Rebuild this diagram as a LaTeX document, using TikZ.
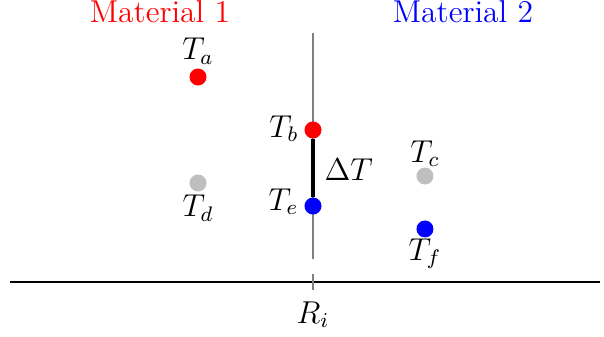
\documentclass[tikz,border=0pt]{standalone}
\usepackage{amsmath, amssymb}
\usepackage{tikz}
\usetikzlibrary{positioning, calc}

\begin{document}
\begin{tikzpicture}[
		font=\large,
		dot/.style={circle, inner sep=0pt, minimum size=0.227cm},
		tlabel/.style={inner sep=0pt, anchor=base},
		axis_line/.style={thin, black},
		iface_line/.style={line width=0.8pt, gray}
		]
		\useasboundingbox (-4.173, -0.72) rectangle (3.88, 3.76);
		
		% Axis and interface
		\coordinate (ax_l) at (-4.04, 0);
		\coordinate (ax_r) at (3.83, 0);
		\coordinate (tick_t) at (0, 0.107);
		\coordinate (tick_b) at (0, -0.107);
		\coordinate (if_t) at (0, 3.32);
		\coordinate (if_b) at (0, 0.307);
		\draw[axis_line] (ax_l) -- (ax_r);
		\draw[iface_line] (tick_t) -- (tick_b);
		\draw[iface_line] (if_t) -- (if_b);
		\node[tlabel] (Ri) at (0, -0.547) {$R_i$};
		
		% Materials
		\node[tlabel, text=red] (mat1) at (-2.04, 3.46) {Material 1};
		\node[tlabel, text=blue] (mat2) at (2.0, 3.46) {Material 2};
		
		% Temperatures
		\node[dot, fill=red] (Ta) at (-1.533, 2.733) {};
		\node[dot, fill=lightgray] (Td) at (-1.533, 1.32) {};
		\node[dot, fill=red] (Tb) at (0, 2.027) {};
		\node[dot, fill=blue] (Te) at (0, 1.013) {};
		\node[dot, fill=lightgray] (Tc) at (1.493, 1.413) {};
		\node[dot, fill=blue] (Tf) at (1.493, 0.707) {};
		
		\node[tlabel] (Ta_l) at (-1.533, 2.96) {$T_a$};
		\node[tlabel] (Td_l) at (-1.533, 0.867) {$T_d$};
		\node[tlabel, anchor=base east] (Tb_l) at (-0.187, 1.933) {$T_b$};
		\node[tlabel, anchor=base east] (Te_l) at (-0.187, 0.96) {$T_e$};
		\node[tlabel] (Tc_l) at (1.493, 1.6) {$T_c$};
		\node[tlabel] (Tf_l) at (1.493, 0.293) {$T_f$};
		
		% Jump
		\draw[ultra thick] (Tb) -- (Te);
		\node[tlabel, anchor=base west] (dT) at (0.147, 1.36) {$\Delta T$};
	\end{tikzpicture}
\end{document}
